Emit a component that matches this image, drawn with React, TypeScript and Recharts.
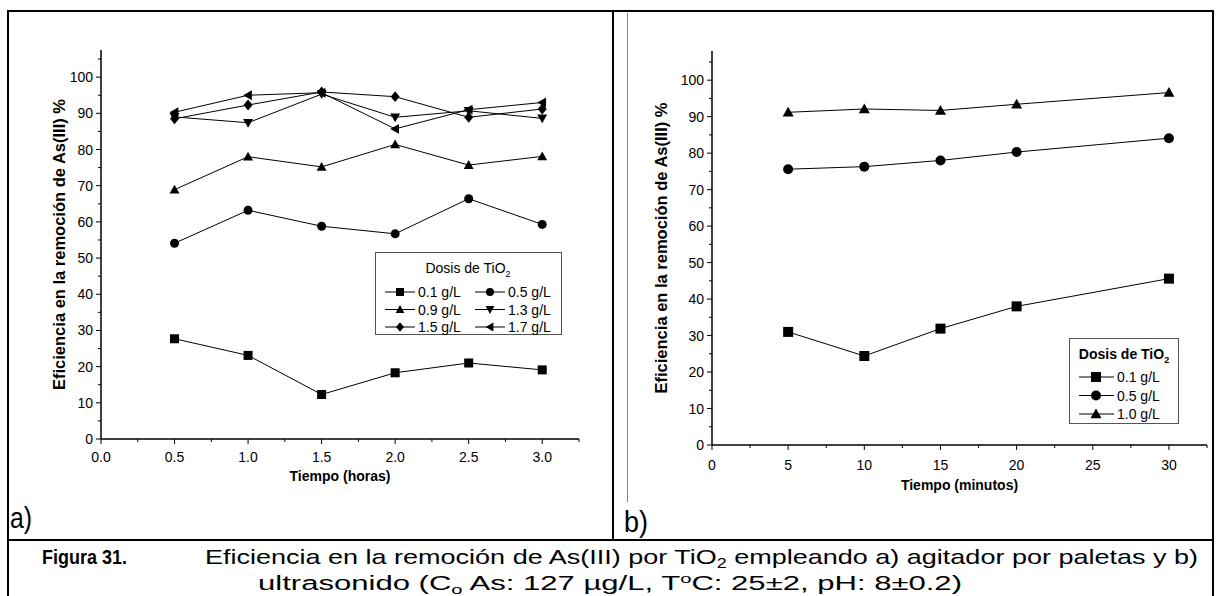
import React from 'react';
import { LineChart, Line, XAxis, YAxis, Legend } from 'recharts';

// a) agitador por paletas
const horas = [0.5, 1.0, 1.5, 2.0, 2.5, 3.0];
const dosis01 = [27.7, 23.1, 12.3, 18.3, 21.0, 19.1];
const dosis05 = [54.1, 63.2, 58.8, 56.7, 66.4, 59.3];
const dosis09 = [68.9, 78.0, 75.2, 81.4, 75.7, 78.1];
const dosis13 = [89.0, 87.4, 95.3, 88.9, 90.7, 88.6];
const dosis15 = [88.5, 92.3, 95.9, 94.6, 88.9, 91.2];
const dosis17 = [90.3, 95.0, 95.7, 85.7, 91.0, 93.0];

// b) ultrasonido
const minutos = [5, 10, 15, 20, 30];
const ultra01 = [31.0, 24.4, 31.9, 38.0, 45.6];
const ultra05 = [75.6, 76.3, 78.0, 80.3, 84.1];
const ultra10 = [91.2, 92.1, 91.7, 93.4, 96.6];

const ticksHoras = [0, 0.25, 0.5, 0.75, 1.0, 1.25, 1.5, 1.75, 2.0, 2.25, 2.5, 2.75, 3.0, 3.25];
const ticksMinutos = [0, 2.5, 5, 7.5, 10, 12.5, 15, 17.5, 20, 22.5, 25, 27.5, 30, 32.5];
const ticksEficiencia = [0, 5, 10, 15, 20, 25, 30, 35, 40, 45, 50, 55, 60, 65, 70, 75, 80, 85, 90, 95, 100, 105];

const seriesA = [
  { key: 'd01', name: '0.1 g/L', values: dosis01 },
  { key: 'd05', name: '0.5 g/L', values: dosis05 },
  { key: 'd09', name: '0.9 g/L', values: dosis09 },
  { key: 'd13', name: '1.3 g/L', values: dosis13 },
  { key: 'd15', name: '1.5 g/L', values: dosis15 },
  { key: 'd17', name: '1.7 g/L', values: dosis17 },
];
const seriesB = [
  { key: 'u01', name: '0.1 g/L', values: ultra01 },
  { key: 'u05', name: '0.5 g/L', values: ultra05 },
  { key: 'u10', name: '1.0 g/L', values: ultra10 },
];

const markerOf: Record<string, string> = {
  d01: 'square', d05: 'circle', d09: 'up', d13: 'down', d15: 'diamond', d17: 'left',
  u01: 'square', u05: 'circle', u10: 'up',
};

const dataA = horas.map((t, i) => {
  const row: any = { t };
  seriesA.forEach((s) => (row[s.key] = s.values[i]));
  return row;
});
const dataB = minutos.map((t, i) => {
  const row: any = { t };
  seriesB.forEach((s) => (row[s.key] = s.values[i]));
  return row;
});

const FONT = '"Liberation Sans", Arial, Helvetica, sans-serif';
const NARROW = '"Liberation Sans Narrow", "Arial Narrow", "Liberation Sans", Arial, sans-serif';

function Marker({ shape, cx, cy, size }: { shape: string; cx: number; cy: number; size: number }) {
  const r = size / 2;
  if (shape === 'square') return <rect x={cx - r} y={cy - r} width={size} height={size} fill="#000" />;
  if (shape === 'circle') return <circle cx={cx} cy={cy} r={r} fill="#000" />;
  if (shape === 'up')
    return <polygon fill="#000" points={`${cx},${cy - r * 1.1} ${cx + r * 1.1},${cy + r * 0.85} ${cx - r * 1.1},${cy + r * 0.85}`} />;
  if (shape === 'down')
    return <polygon fill="#000" points={`${cx},${cy + r * 1.1} ${cx + r * 1.1},${cy - r * 0.85} ${cx - r * 1.1},${cy - r * 0.85}`} />;
  if (shape === 'diamond')
    return <polygon fill="#000" points={`${cx},${cy - r * 1.2} ${cx + r},${cy} ${cx},${cy + r * 1.2} ${cx - r},${cy}`} />;
  return <polygon fill="#000" points={`${cx - r * 1.1},${cy} ${cx + r * 0.85},${cy - r * 1.1} ${cx + r * 0.85},${cy + r * 1.1}`} />;
}

const dotFor = (key: string, size: number) => (p: any) =>
  <Marker key={`${key}-${p.index}`} shape={markerOf[key]} cx={p.cx} cy={p.cy} size={size} />;

const bottomTick = (isMajor: (v: number) => boolean, fmt: (v: number) => string, dy: number) => (p: any) => {
  const v = p.payload.value;
  const major = isMajor(v);
  return (
    <g>
      <line x1={p.x} y1={p.y} x2={p.x} y2={p.y + (major ? 5 : 3)} stroke="#000" />
      {major && (
        <text x={p.x} y={p.y + dy} textAnchor="middle" fontSize={14} fill="#000">
          {fmt(v)}
        </text>
      )}
    </g>
  );
};
const topTick = (isMajor: (v: number) => boolean) => (p: any) => (
  <line x1={p.x} y1={p.y} x2={p.x} y2={p.y + (isMajor(p.payload.value) ? 5 : 3)} stroke="#000" />
);
const leftTick = (p: any) => {
  const v = p.payload.value;
  const major = v % 10 === 0;
  return (
    <g>
      <line x1={p.x - (major ? 5 : 3)} y1={p.y} x2={p.x} y2={p.y} stroke="#000" />
      {major && (
        <text x={p.x - 8} y={p.y + 5} textAnchor="end" fontSize={14} fill="#000">
          {v}
        </text>
      )}
    </g>
  );
};
const rightTick = (p: any) => (
  <line x1={p.x - (p.payload.value % 10 === 0 ? 5 : 3)} y1={p.y} x2={p.x} y2={p.y} stroke="#000" />
);

const halfHour = (v: number) => Math.abs(v * 2 - Math.round(v * 2)) < 1e-6;
const fiveMin = (v: number) => v % 5 === 0;

const axisLine = { stroke: '#000', strokeWidth: 1.5 };
const xTitleStyle = { fontWeight: 'bold', fontSize: 14, fill: '#000', textAnchor: 'middle' } as any;
const yTitleStyle = { fontWeight: 'bold', fontSize: 16.5, fill: '#000', textAnchor: 'middle' } as any;
const yTitle = 'Eficiencia en la remoción de As(III) %';

function LegendA() {
  return (
    <svg width={187} height={88} style={{ display: 'block', overflow: 'visible' }}>
      <rect x={0.5} y={0.5} width={186} height={82} fill="#fff" stroke="#555" />
      <text x={93} y={21} textAnchor="middle" fontSize={14} fill="#000">
        Dosis de TiO<tspan dy={4} fontSize={9}>2</tspan>
      </text>
      {seriesA.map((s, i) => {
        const x0 = 10 + (i % 2) * 90;
        const cy = 40 + Math.floor(i / 2) * 17.5;
        return (
          <g key={s.key}>
            <line x1={x0} x2={x0 + 30} y1={cy} y2={cy} stroke="#000" />
            <Marker shape={markerOf[s.key]} cx={x0 + 15} cy={cy} size={8} />
            <text x={x0 + 33} y={cy + 5} fontSize={14} fill="#000">{s.name}</text>
          </g>
        );
      })}
    </svg>
  );
}

function LegendB() {
  return (
    <svg width={110} height={88} style={{ display: 'block', overflow: 'visible' }}>
      <rect x={0.5} y={0.5} width={109} height={85} fill="#fff" stroke="#555" />
      <text x={55} y={21} textAnchor="middle" fontSize={14} fontWeight="bold" fill="#000">
        Dosis de TiO<tspan dy={4} fontSize={9}>2</tspan>
      </text>
      {seriesB.map((s, i) => {
        const cy = 39 + i * 18.5;
        return (
          <g key={s.key}>
            <line x1={10} x2={45} y1={cy} y2={cy} stroke="#000" />
            <Marker shape={markerOf[s.key]} cx={27} cy={cy} size={10} />
            <text x={48} y={cy + 5} fontSize={14} fill="#000">{s.name}</text>
          </g>
        );
      })}
    </svg>
  );
}

export default function App() {
  return (
    <div style={{ position: 'absolute', left: 0, top: 0, width: 1220, height: 596, background: '#fff', fontFamily: FONT, overflow: 'hidden' }}>
      <div style={{ position: 'absolute', left: 0, top: 0 }}>
        <LineChart width={612} height={540} data={dataA} margin={{ top: 50, right: 33, bottom: 51, left: 41 }}>
          <XAxis
            dataKey="t" type="number" domain={[0, 3.25]} allowDataOverflow ticks={ticksHoras} interval={0}
            tickSize={0} tickMargin={0} tickLine={false} axisLine={axisLine} height={50}
            tick={bottomTick(halfHour, (v) => v.toFixed(1), 23)}
            label={{ value: 'Tiempo (horas)', position: 'insideBottom', offset: 8, style: xTitleStyle }}
          />
          <XAxis
            xAxisId="top" orientation="top" type="number" domain={[0, 3.25]} allowDataOverflow ticks={ticksHoras}
            interval={0} tickSize={0} tickMargin={0} tickLine={false} axisLine={axisLine} height={0} tick={topTick(halfHour)}
          />
          <YAxis
            type="number" domain={[0, 107.5]} allowDataOverflow ticks={ticksEficiencia} interval={0}
            tickSize={0} tickMargin={0} tickLine={false} axisLine={axisLine} width={60} tick={leftTick}
            label={{ value: yTitle, angle: -90, position: 'insideLeft', offset: 18, style: yTitleStyle }}
          />
          <YAxis
            yAxisId="right" orientation="right" type="number" domain={[0, 107.5]} allowDataOverflow ticks={ticksEficiencia}
            interval={0} tickSize={0} tickMargin={0} tickLine={false} axisLine={axisLine} width={0} tick={rightTick}
          />
          {seriesA.map((s) => (
            <Line key={s.key} type="linear" dataKey={s.key} name={s.name} stroke="#000" strokeWidth={1}
              dot={dotFor(s.key, 9)} activeDot={false} isAnimationActive={false} />
          ))}
          <Legend layout="vertical" align="center" verticalAlign="middle"
            wrapperStyle={{ left: 375, top: 252, width: 187, height: 88 }} content={() => <LegendA />} />
        </LineChart>
      </div>

      <div style={{ position: 'absolute', left: 612, top: 0 }}>
        <LineChart width={608} height={540} data={dataB} margin={{ top: 51, right: 13, bottom: 45, left: 40 }}>
          <XAxis
            dataKey="t" type="number" domain={[0, 32.5]} allowDataOverflow ticks={ticksMinutos} interval={0}
            tickSize={0} tickMargin={0} tickLine={false} axisLine={axisLine} height={50}
            tick={bottomTick(fiveMin, (v) => String(v), 25)}
            label={{ value: 'Tiempo (minutos)', position: 'insideBottom', offset: 5, style: xTitleStyle }}
          />
          <XAxis
            xAxisId="top" orientation="top" type="number" domain={[0, 32.5]} allowDataOverflow ticks={ticksMinutos}
            interval={0} tickSize={0} tickMargin={0} tickLine={false} axisLine={axisLine} height={0} tick={topTick(fiveMin)}
          />
          <YAxis
            type="number" domain={[0, 108]} allowDataOverflow ticks={ticksEficiencia} interval={0}
            tickSize={0} tickMargin={0} tickLine={false} axisLine={axisLine} width={60} tick={leftTick}
            label={{ value: yTitle, angle: -90, position: 'insideLeft', offset: 9, style: yTitleStyle }}
          />
          <YAxis
            yAxisId="right" orientation="right" type="number" domain={[0, 108]} allowDataOverflow ticks={ticksEficiencia}
            interval={0} tickSize={0} tickMargin={0} tickLine={false} axisLine={axisLine} width={0} tick={rightTick}
          />
          {seriesB.map((s) => (
            <Line key={s.key} type="linear" dataKey={s.key} name={s.name} stroke="#000" strokeWidth={1}
              dot={dotFor(s.key, 10)} activeDot={false} isAnimationActive={false} />
          ))}
          <Legend layout="vertical" align="center" verticalAlign="middle"
            wrapperStyle={{ left: 457, top: 338, width: 110, height: 88 }} content={() => <LegendB />} />
        </LineChart>
      </div>

      <svg width={1220} height={596} style={{ position: 'absolute', left: 0, top: 0, pointerEvents: 'none', fontFamily: NARROW }}>
        <rect x={8} y={11} width={1205} height={600} fill="none" stroke="#000" strokeWidth={2} />
        <line x1={613} y1={11} x2={613} y2={540} stroke="#000" strokeWidth={2} />
        <line x1={8} y1={540} x2={1213} y2={540} stroke="#000" strokeWidth={2} />
        <line x1={627.5} y1={13} x2={627.5} y2={502} stroke="#3cb44b" strokeWidth={1} />
        <text x={10} y={528} fontSize={30} fill="#000" textLength={22} lengthAdjust="spacingAndGlyphs">a)</text>
        <text x={624} y={532} fontSize={30} fill="#000" textLength={24} lengthAdjust="spacingAndGlyphs">b)</text>
        <text x={42} y={564} fontSize={21} fontWeight="bold" fill="#000" textLength={85} lengthAdjust="spacingAndGlyphs">Figura 31.</text>
        <text x={205} y={564} fontSize={21} fill="#000" textLength={993} lengthAdjust="spacingAndGlyphs">
          Eficiencia en la remoción de As(III) por TiO<tspan dy={4} fontSize={14}>2</tspan>
          <tspan dy={-4}> empleando a) agitador por paletas y b)</tspan>
        </text>
        <text x={258} y={590} fontSize={20} fill="#000" textLength={704} lengthAdjust="spacingAndGlyphs">
          ultrasonido (C<tspan dy={4} fontSize={13}>o</tspan>
          <tspan dy={-4}> As: 127 µg/L, T</tspan>
          <tspan dy={-7} fontSize={13}>o</tspan>
          <tspan dy={7}>C: 25±2, pH: 8±0.2)</tspan>
        </text>
      </svg>
    </div>
  );
}
